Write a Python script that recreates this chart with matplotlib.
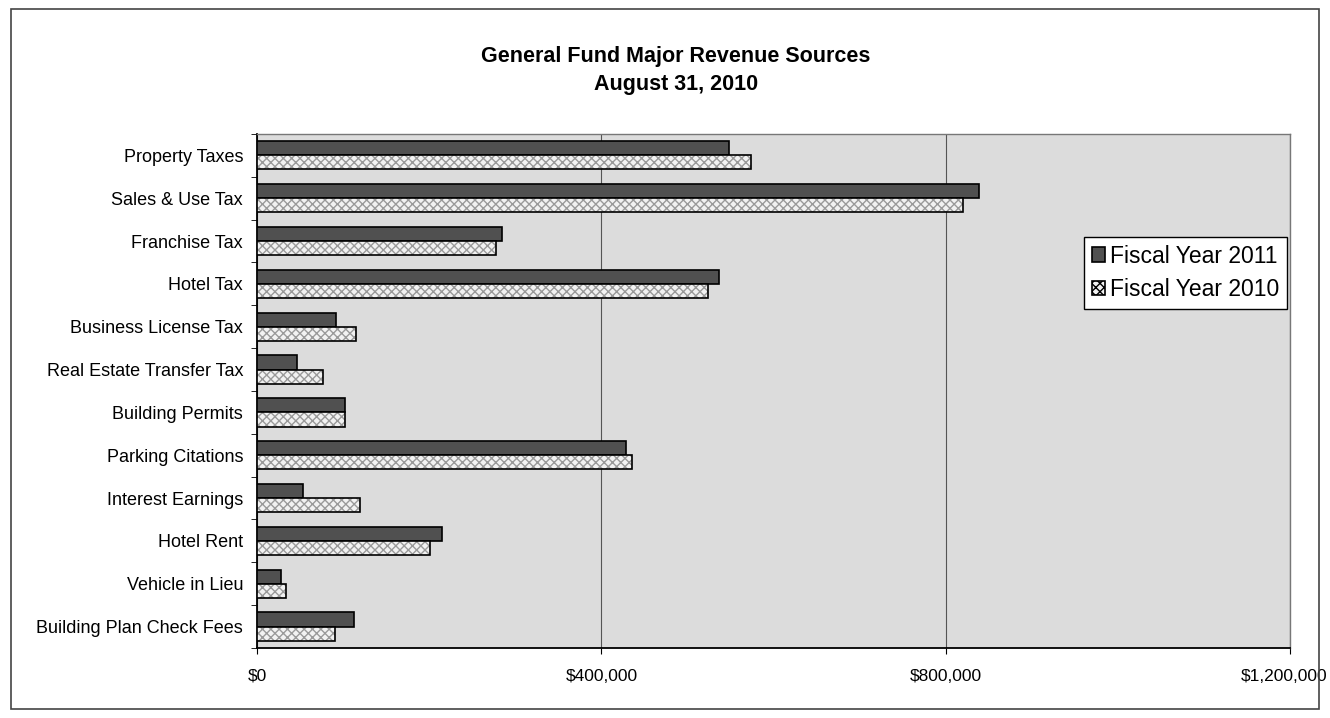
import numpy as np
import matplotlib
matplotlib.use("Agg")
from matplotlib import pyplot as plt
from matplotlib.patches import Patch, Rectangle
from matplotlib.ticker import FuncFormatter
from matplotlib.transforms import ScaledTranslation

plt.rcParams['font.family'] = ['Liberation Sans', 'DejaVu Sans']

categories = ['Property Taxes', 'Sales & Use Tax', 'Franchise Tax', 'Hotel Tax',
              'Business License Tax', 'Real Estate Transfer Tax', 'Building Permits',
              'Parking Citations', 'Interest Earnings', 'Hotel Rent',
              'Vehicle in Lieu', 'Building Plan Check Fees']
fy2011 = [548000, 838000, 285000, 537000, 92000, 47000, 102000, 428000, 53000, 215000, 28000, 113000]
fy2010 = [574000, 820000, 277000, 524000, 115000, 77000, 102000, 436000, 120000, 201000, 34000, 91000]
series_names = ['Fiscal Year 2011', 'Fiscal Year 2010']

fig = plt.figure(figsize=(13.3, 7.18), dpi=100)
fig.patches.append(Rectangle((0.008, 0.012), 0.984, 0.976, transform=fig.transFigure,
                             fill=False, edgecolor='#444444', linewidth=1.2))

ax = fig.add_axes([0.1932, 0.0975, 0.777, 0.716])
ax.set_facecolor('#dcdcdc')

y = np.arange(len(categories))
h = 0.33
# dark bars (FY 2011) sit above the light ones
ax.barh(y - h / 2, fy2011, height=h, color='#505050', edgecolor='black', linewidth=1.2, zorder=3)
# light checkered bars: hatch in gray, then black outline on top
ax.barh(y + h / 2, fy2010, height=h, color='#f2f2f2', edgecolor='#9a9a9a', hatch='xxxx',
        linewidth=0, zorder=3)
ax.barh(y + h / 2, fy2010, height=h, fill=False, edgecolor='black', linewidth=1.2, zorder=4)

ax.set_ylim(len(categories) - 0.5, -0.5)
ax.set_xlim(0, 1200000)
ax.set_yticks(y)
ax.set_yticklabels(categories, fontsize=13)
ax.set_yticks(np.arange(len(categories) + 1) - 0.5, minor=True)
ax.tick_params(axis='y', which='major', length=0, pad=10)
ax.tick_params(axis='y', which='minor', length=4, direction='out', color='black')
ax.set_xticks([0, 400000, 800000, 1200000])
ax.xaxis.set_major_formatter(FuncFormatter(lambda v, p: '${:,.0f}'.format(v)))
ax.tick_params(axis='x', length=4, labelsize=12.5, pad=11)
ax.grid(axis='x', color='#555555', linewidth=0.8, zorder=1)
ax.set_axisbelow(True)
for s in ['left', 'bottom']:
    ax.spines[s].set_color('black')
    ax.spines[s].set_linewidth(1.3)
for s in ['top', 'right']:
    ax.spines[s].set_color('#777777')
    ax.spines[s].set_linewidth(1.0)

# last x label sits at the right edge; nudge it in so it is not clipped
last = ax.get_xticklabels()[-1]
last.set_transform(last.get_transform() + ScaledTranslation(-0.06, 0, fig.dpi_scale_trans))

fig.text(0.508, 0.921, 'General Fund Major Revenue Sources', ha='center', va='center',
         fontsize=15.5, fontweight='bold')
fig.text(0.508, 0.883, 'August 31, 2010', ha='center', va='center',
         fontsize=15.5, fontweight='bold')

handles = [Patch(facecolor='#505050', edgecolor='black', linewidth=1.2),
           Patch(facecolor='#f2f2f2', edgecolor='black', linewidth=1.2, hatch='xxxx')]
leg = ax.legend(handles, series_names, loc='upper left', bbox_to_anchor=(0.800, 0.800),
                fontsize=16.5, frameon=True, fancybox=False, handlelength=0.6,
                handleheight=0.6, handletextpad=0.2, borderpad=0.35, borderaxespad=0,
                labelspacing=0.45)
leg.get_frame().set_edgecolor('black')
leg.get_frame().set_facecolor('white')
leg.get_frame().set_alpha(1)
leg.get_frame().set_linewidth(1.0)

fig.savefig('out.png', dpi=100)
